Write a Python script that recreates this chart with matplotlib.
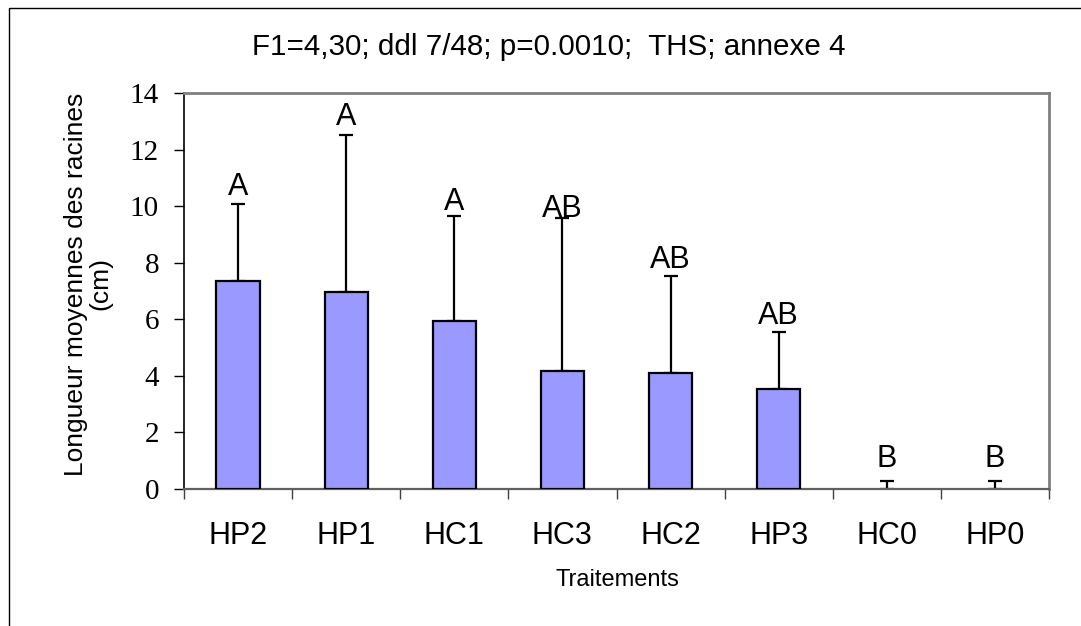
import numpy as np
import matplotlib.pyplot as plt
from matplotlib.patches import Rectangle

# Data
categories = ["HP2", "HP1", "HC1", "HC3", "HC2", "HP3", "HC0", "HP0"]
means = [7.37, 6.98, 5.94, 4.18, 4.10, 3.55, 0.0, 0.0]
errors = [2.71, 5.52, 3.71, 5.39, 3.44, 2.01, 0.29, 0.29]
letters = ["A", "A", "A", "AB", "AB", "AB", "B", "B"]
letter_y = [10.4, 12.86, 9.86, 9.62, 7.8, 5.83, 0.79, 0.79]

sans = "Liberation Sans"
serif = "Liberation Serif"

fig = plt.figure(figsize=(10.81, 6.26), dpi=100)
ax = fig.add_axes([184 / 1081, 1 - 489 / 626, 865 / 1081, 396 / 626])

x = np.arange(len(categories))
edges = ["black" if m > 0 else "none" for m in means]
ax.bar(x, means, width=0.4, color="#9999FF", edgecolor=edges, linewidth=1.6, zorder=3)
ax.errorbar(x, means, yerr=[np.zeros(len(errors)), errors], fmt="none",
            ecolor="black", elinewidth=1.6, capsize=5, capthick=1.6, zorder=2)

for xi, lab, ly in zip(x, letters, letter_y):
    ax.text(xi, ly, lab, ha="center", va="baseline", fontsize=22, family=sans, zorder=4)

ax.set_xlim(-0.5, len(categories) - 0.5)
ax.set_ylim(0, 14)
ax.set_yticks(np.arange(0, 15, 2))
ax.set_yticklabels([str(v) for v in range(0, 15, 2)], family=serif, fontsize=21)
ax.tick_params(axis="y", direction="out", length=7, width=1, pad=11, color="black")

# ticks between categories, labels at centres
ax.set_xticks(np.arange(-0.5, len(categories), 1))
ax.set_xticklabels([])
ax.set_xticks(x, minor=True)
ax.set_xticklabels(categories, minor=True, family=sans, fontsize=22)
ax.tick_params(axis="x", which="major", direction="out", length=7, width=1, color="#404040")
ax.tick_params(axis="x", which="minor", length=0, pad=23)

ax.spines["left"].set_color("black")
ax.spines["left"].set_linewidth(1.2)
ax.spines["bottom"].set_color("#606060")
ax.spines["bottom"].set_linewidth(1.6)
for s in ["top", "right"]:
    ax.spines[s].set_color("#808080")
    ax.spines[s].set_linewidth(2)

fig.text(549 / 1081, 1 - 55 / 626, "F1=4,30; ddl 7/48; p=0.0010;  THS; annexe 4",
         ha="center", va="baseline", fontsize=21.3, family=sans)
fig.text(617 / 1081, 1 - 580 / 626, "Traitements", ha="center", va="center",
         fontsize=17, family=sans)
fig.text(88 / 1081, 1 - 284 / 626, "Longueur moyennes des racines\n(cm)", rotation=90,
         ha="center", va="center", multialignment="center", linespacing=1.0,
         fontsize=19, family=sans)

# outer chart border (only left and top visible)
fig.add_artist(Rectangle((8.5 / 1081, -0.1), 1.2, 1.1 - 7.5 / 626, transform=fig.transFigure,
                         fill=False, edgecolor="black", linewidth=1))

fig.savefig("out.png", dpi=100)
